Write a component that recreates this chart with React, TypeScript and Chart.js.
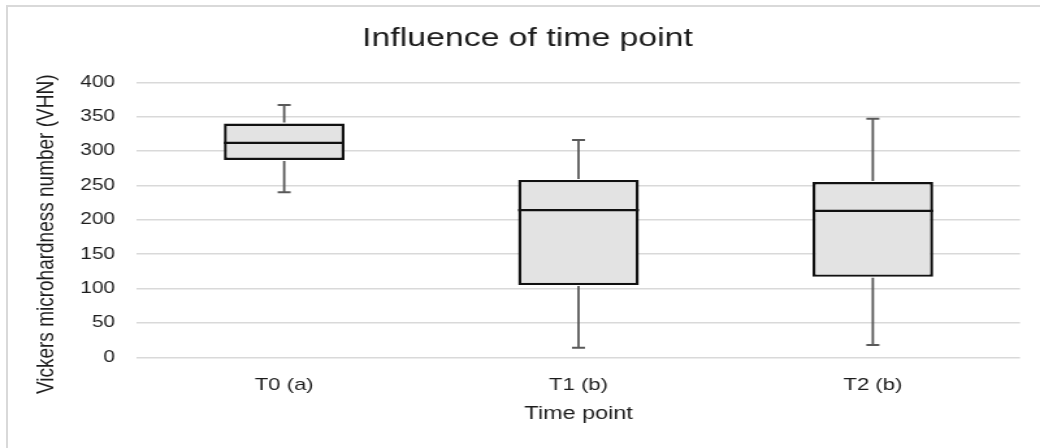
import React, { useEffect, useRef } from "react";
import { Chart, registerables } from "chart.js";

Chart.register(...registerables);

// ---- Data ----
const categories = ["T0 (a)", "T1 (b)", "T2 (b)"];
const minValues = [240, 14, 18];
const q1Values = [287, 105, 117];
const medianValues = [312, 214, 213];
const q3Values = [340, 258, 255];
const maxValues = [367, 316, 347];
const yTickMin = 0;
const yTickMax = 400;
const yTickStep = 50;

const titleText = "Influence of time point";
const xTitleText = "Time point";
const yTitleText = "Vickers microhardness number (VHN)";

// Page size and horizontal stretch of the source picture
const PAGE_W = 1040;
const PAGE_H = 448;
const STRETCH = 1.3;
const INNER_W = Math.round(PAGE_W / STRETCH); // 800

const FONT = "'Liberation Sans', Arial, sans-serif";
const TEXT_COLOR = "#1c1c1c";

const boxPlotPlugin = {
  id: "boxWhiskers",
  afterDatasetsDraw(chart: any) {
    const ctx = chart.ctx;
    const xScale = chart.scales.x;
    const yScale = chart.scales.y;
    const meta = chart.getDatasetMeta(0);
    ctx.save();
    categories.forEach((_, i) => {
      const bar = meta.data[i];
      if (!bar) return;
      const cx = xScale.getPixelForValue(i);
      const half = bar.width / 2;
      const yMin = yScale.getPixelForValue(minValues[i]);
      const yQ1 = yScale.getPixelForValue(q1Values[i]);
      const yMed = yScale.getPixelForValue(medianValues[i]);
      const yQ3 = yScale.getPixelForValue(q3Values[i]);
      const yMax = yScale.getPixelForValue(maxValues[i]);

      // whiskers
      ctx.strokeStyle = "#595959";
      ctx.lineWidth = 1.8;
      ctx.beginPath();
      ctx.moveTo(cx, yQ3 - 1);
      ctx.lineTo(cx, yMax);
      ctx.moveTo(cx, yQ1 + 1);
      ctx.lineTo(cx, yMin);
      ctx.stroke();
      // caps
      ctx.lineWidth = 2;
      ctx.beginPath();
      ctx.moveTo(cx - 5, yMax);
      ctx.lineTo(cx + 5, yMax);
      ctx.moveTo(cx - 5, yMin);
      ctx.lineTo(cx + 5, yMin);
      ctx.stroke();

      // median
      ctx.strokeStyle = "#111111";
      ctx.lineWidth = 2.2;
      ctx.beginPath();
      ctx.moveTo(cx - half, yMed);
      ctx.lineTo(cx + half, yMed);
      ctx.stroke();
    });
    ctx.restore();
  },
};

const yTitlePlugin = {
  id: "yAxisTitle",
  afterDraw(chart: any) {
    const ctx = chart.ctx;
    const yScale = chart.scales.y;
    // centre of the title sits slightly below the centre of the plot area
    const cy = (yScale.top + yScale.bottom) / 2 + 14.5;
    ctx.save();
    ctx.translate(35.8, cy);
    ctx.rotate(-Math.PI / 2);
    ctx.font = `19px ${FONT}`;
    ctx.fillStyle = TEXT_COLOR;
    ctx.textAlign = "center";
    ctx.textBaseline = "middle";
    ctx.fillText(yTitleText, 0, 0);
    ctx.restore();
  },
};

export default function App() {
  const canvasRef = useRef<HTMLCanvasElement | null>(null);

  useEffect(() => {
    document.body.style.margin = "0";
    document.body.style.background = "#ffffff";
    const canvas = canvasRef.current;
    if (!canvas) return;

    const plotLeft = 137 / STRETCH;
    const plotRight = 1020 / STRETCH;
    const padLeft = 27;
    const plotTop = 82.3;
    const plotBottom = 357.3;

    const chart = new Chart(canvas, {
      type: "bar",
      data: {
        labels: categories,
        datasets: [
          {
            data: categories.map((_, i) => [q1Values[i], q3Values[i]]) as any,
            backgroundColor: "#e3e3e3",
            borderColor: "#111111",
            borderWidth: 2.4,
            borderSkipped: false,
            barPercentage: 0.41,
            categoryPercentage: 1,
          },
        ],
      },
      options: {
        animation: false,
        responsive: false,
        maintainAspectRatio: false,
        devicePixelRatio: 1,
        layout: {
          padding: { left: padLeft, right: INNER_W - plotRight, top: 0, bottom: 0 },
        },
        plugins: {
          legend: { display: false },
          tooltip: { enabled: false },
          title: {
            display: true,
            text: titleText,
            color: TEXT_COLOR,
            font: { family: FONT, size: 26, weight: "normal" },
            padding: { top: 23.4, bottom: plotTop - 23.4 - 31.2 },
          },
        },
        scales: {
          x: {
            grid: { display: false, drawTicks: false },
            border: { display: false },
            ticks: {
              color: TEXT_COLOR,
              font: { family: FONT, size: 17 },
              padding: 17.5,
            },
            title: {
              display: true,
              text: xTitleText,
              color: TEXT_COLOR,
              font: { family: FONT, size: 18 },
              padding: { top: 0, bottom: 22.9 },
            },
            afterFit(scale: any) {
              scale.height = PAGE_H - plotBottom;
            },
          },
          y: {
            min: yTickMin,
            max: yTickMax,
            grid: {
              color: "#d9d9d9",
              lineWidth: 1.5,
              drawTicks: false,
            },
            border: { display: false },
            ticks: {
              stepSize: yTickStep,
              color: TEXT_COLOR,
              font: { family: FONT, size: 16 },
              padding: plotLeft - 115 / STRETCH,
            },
            afterFit(scale: any) {
              scale.width = plotLeft - padLeft;
            },
          },
        },
      },
      plugins: [boxPlotPlugin, yTitlePlugin],
    });

    return () => {
      chart.destroy();
    };
  }, []);

  return (
    <div
      style={{
        position: "relative",
        width: PAGE_W,
        height: PAGE_H,
        background: "#ffffff",
        overflow: "hidden",
      }}
    >
      <canvas
        ref={canvasRef}
        width={INNER_W}
        height={PAGE_H}
        style={{
          position: "absolute",
          left: 0,
          top: 0,
          width: PAGE_W + "px",
          height: PAGE_H + "px",
        }}
      />
      <div
        style={{
          position: "absolute",
          left: 5.5,
          top: 4.5,
          width: PAGE_W,
          height: PAGE_H,
          borderTop: "2px solid #d9d9d9",
          borderLeft: "2px solid #d9d9d9",
          boxSizing: "border-box",
          pointerEvents: "none",
        }}
      />
    </div>
  );
}
